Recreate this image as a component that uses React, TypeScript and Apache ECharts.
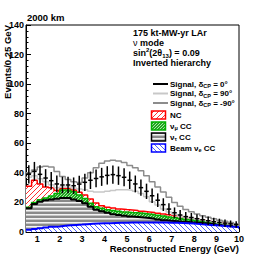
import React, { useEffect, useRef } from "react";
import * as echarts from "echarts";

// Binning (GeV): 38 bins of 0.25 GeV starting at 0.5 GeV
const binLow = 0.5;
const binWidth = 0.25;

// Background components (events per bin)
const beamNueCC = [1.5, 2, 2.5, 3, 3.5, 3.8, 4.2, 4.5, 4.8, 5, 5.3, 5.5, 5.7, 5.9, 6, 6.1, 6.2, 6.3, 6.4, 6.5, 6.5, 6.5, 6.5, 6.5, 6.4, 6.3, 6.2, 6.1, 6.0, 5.7, 5.4, 5.1, 4.8, 4.5, 4.2, 3.9, 3.6, 3.3];
const nutauCC = [14.5, 17, 18, 18.5, 18.5, 18.7, 18.8, 18.5, 17.2, 16, 14.2, 11.5, 9.3, 8.1, 7, 5.9, 5.3, 4.7, 4.1, 3.7, 3.3, 2.9, 2.5, 2.0, 1.6, 1.3, 1.1, 0.9, 0.8, 0.8, 0.8, 0.8, 0.7, 0.6, 0.5, 0.5, 0.4, 0.4];
const numuCC = [0.8, 1, 1.3, 1.5, 2.3, 3.5, 5.4, 5.4, 5.2, 4, 3.2, 2.4, 2, 2, 2, 2.5, 2.5, 2.5, 2.7, 2.8, 2.8, 2.8, 2.8, 2.8, 2.8, 2.6, 2.4, 2.2, 1.8, 1.6, 1.4, 1.2, 1.1, 1.0, 0.9, 0.8, 0.8, 0.6];
const ncBkg = [14.2, 15, 10.7, 7.5, 5.7, 2, 1.1, 1.1, 1.2, 1.8, 2.3, 2.9, 2.6, 1.8, 1.8, 1.7, 1.6, 1.7, 1.7, 1.5, 1.4, 1.4, 1.4, 1.4, 1.4, 1.5, 1.4, 1.3, 1.2, 1.1, 1.0, 0.9, 0.8, 0.7, 0.6, 0.5, 0.4, 0.4];

// Signal (nu_e appearance) for three values of delta_CP
const signalCP0 = [8, 6, 6.5, 6, 4.7, 4.5, 2.3, 2.3, 2.9, 5.6, 8.6, 12.7, 16.6, 19.5, 21.5, 22.6, 22.5, 21.8, 20.1, 18, 16, 13.9, 11.3, 8.8, 6.3, 3.8, 1.9, 1.0, 0.6, 0.6, 0.4, 0.3, 0.2, 0.2, 0.3, 0.3, 0.3, 0.3];
const signalCP90 = [6, 3, 3.5, 3.5, 2, 2, 1, 1, 1.4, 2.2, 3.5, 5.2, 7.4, 9.2, 10.7, 11.8, 12.9, 13.3, 13.4, 13, 12, 10.3, 7.3, 5.5, 3.3, 1.8, 0.7, 0.1, 0, 0.1, 0.1, 0.1, 0.1, 0.1, 0.1, 0.1, 0.1, 0.1];
const signalCPm90 = [9, 7, 11.5, 14, 14, 13, 8, 6, 5.6, 6.7, 11.5, 17.7, 23.9, 28.7, 31.2, 32.3, 32.4, 31.8, 30.1, 29, 27.5, 24.4, 20.8, 17.8, 14.8, 11.8, 8.9, 7, 5.5, 4.5, 3.6, 3, 2.6, 2.2, 1.8, 1.5, 1.2, 0.9];
// Statistical error bars on the delta_CP = 0 prediction
const errCP0 = [6.2, 6.4, 6.2, 6.0, 5.9, 5.7, 5.6, 5.6, 5.6, 5.7, 5.8, 5.9, 6.0, 6.1, 6.2, 6.2, 6.2, 6.1, 5.9, 5.7, 5.5, 5.2, 4.9, 4.6, 4.3, 3.9, 3.6, 3.4, 3.2, 3.1, 3.0, 2.9, 2.8, 2.6, 2.5, 2.4, 2.3, 2.2];

const xTickValues = [1, 2, 3, 4, 5, 6, 7, 8, 9, 10];
const xMinorStep = 0.2;

const FONT = "'Liberation Sans', Arial, Helvetica, sans-serif";

function sumArr(...arrs: number[][]): number[] {
  return arrs[0].map((_, i) => arrs.reduce((s, a) => s + a[i], 0));
}

function stepData(vals: number[]) {
  const d: number[][] = vals.map((v, i) => [binLow + i * binWidth, v]);
  d.push([binLow + vals.length * binWidth, vals[vals.length - 1]]);
  return d;
}

function makeCanvas(w: number, h: number, draw: (ctx: CanvasRenderingContext2D) => void) {
  const c = document.createElement("canvas");
  c.width = w;
  c.height = h;
  const ctx = c.getContext("2d")!;
  draw(ctx);
  return { image: c, repeat: "repeat", imageWidth: w, imageHeight: h } as any;
}

function hatch(color: string, dir: 1 | -1, size: number, bg: string) {
  return makeCanvas(size, size, (ctx) => {
    ctx.fillStyle = bg;
    ctx.fillRect(0, 0, size, size);
    ctx.strokeStyle = color;
    ctx.lineWidth = 1;
    ctx.beginPath();
    if (dir === 1) {
      ctx.moveTo(-1, size + 1);
      ctx.lineTo(size + 1, -1);
      ctx.moveTo(-1, 1);
      ctx.lineTo(1, -1);
      ctx.moveTo(size - 1, size + 1);
      ctx.lineTo(size + 1, size - 1);
    } else {
      ctx.moveTo(-1, -1);
      ctx.lineTo(size + 1, size + 1);
      ctx.moveTo(size - 1, -1);
      ctx.lineTo(size + 1, 1);
      ctx.moveTo(-1, size - 1);
      ctx.lineTo(1, size + 1);
    }
    ctx.stroke();
  });
}

export default function App() {
  const ref = useRef<HTMLDivElement>(null);

  useEffect(() => {
    if (!ref.current) return;
    const chart = echarts.init(ref.current, null, { renderer: "svg" });

    const ncPat = hatch("#ff3030", 1, 5, "#ffffff");
    const beamPat = hatch("#4a5cff", -1, 5, "#ffffff");
    const numuPat = makeCanvas(3, 3, (ctx) => {
      ctx.fillStyle = "#22a622";
      ctx.fillRect(0, 0, 3, 3);
      ctx.fillStyle = "#a8e6a8";
      ctx.fillRect(0, 0, 1, 1);
      ctx.fillRect(2, 1, 1, 1);
      ctx.fillRect(1, 2, 1, 1);
    });
    const nutauPat = makeCanvas(4, 4, (ctx) => {
      ctx.fillStyle = "#8a8a8a";
      ctx.fillRect(0, 0, 4, 4);
      ctx.fillStyle = "#f2f2f2";
      ctx.fillRect(0, 2, 4, 1);
      ctx.fillStyle = "#c4c4c4";
      ctx.fillRect(0, 3, 4, 1);
    });

    const cumB = beamNueCC;
    const cumK = sumArr(beamNueCC, nutauCC);
    const cumG = sumArr(beamNueCC, nutauCC, numuCC);
    const cumR = sumArr(beamNueCC, nutauCC, numuCC, ncBkg);
    const tot0 = sumArr(cumR, signalCP0);
    const tot90 = sumArr(cumR, signalCP90);
    const totm90 = sumArr(cumR, signalCPm90);

    const xMinor: number[] = [];
    for (let v = binLow + 0.1; v < 10; v += xMinorStep) {
      const r = Math.round(v * 10) / 10;
      if (Math.abs(r - Math.round(r)) > 1e-6) xMinor.push(r);
    }

    const areaSeries = (name: string, vals: number[], lineColor: string, lw: number, fill: any) => ({
      name,
      type: "line",
      step: "end",
      data: stepData(vals),
      showSymbol: false,
      symbol: "none",
      silent: true,
      lineStyle: { color: lineColor, width: lw },
      areaStyle: { color: fill, opacity: 1 },
    });

    const lineSeries = (name: string, vals: number[], color: string, lw: number) => ({
      name,
      type: "line",
      step: "end",
      data: stepData(vals),
      showSymbol: false,
      symbol: "none",
      silent: true,
      z: 5,
      lineStyle: { color, width: lw },
    });

    const legendTextStyle = (txt: string, x: number, y: number) => ({
      type: "text",
      style: {
        text: txt,
        x,
        y,
        fill: "#000",
        fontSize: 8,
        fontWeight: "bold",
        fontFamily: FONT,
        verticalAlign: "middle",
        align: "left",
        lineHeight: 10,
        rich: {
          sub: { fontSize: 5.5, fontWeight: "bold", fontFamily: FONT, verticalAlign: "bottom", lineHeight: 6, fill: "#000" },
        },
      },
    });

    const legendLine = (y: number, color: string, lw: number) => ({
      type: "line",
      shape: { x1: 153, y1: y, x2: 168, y2: y },
      style: { stroke: color, lineWidth: lw },
    });

    const legendBox = (y: number, stroke: string, fill: any) => ({
      type: "rect",
      shape: { x: 151.5, y: y - 4, width: 14, height: 8 },
      style: { fill, stroke, lineWidth: 1.5 },
    });

    const headerText = (txt: string, y: number, rich?: any) => ({
      type: "text",
      style: {
        text: txt,
        x: 133,
        y,
        fill: "#000",
        fontSize: 9,
        fontWeight: "bold",
        fontFamily: FONT,
        verticalAlign: "middle",
        align: "left",
        lineHeight: 12,
        rich,
      },
    });

    chart.setOption({
      animation: false,
      backgroundColor: "#ffffff",
      grid: {
        left: 26,
        right: 27,
        top: 25,
        bottom: 26,
        show: true,
        borderColor: "#000",
        borderWidth: 1,
        backgroundColor: "#ffffff",
      },
      xAxis: [
        {
          type: "value",
          min: 0.5,
          max: 10,
          position: "bottom",
          axisLine: { show: true, lineStyle: { color: "#000", width: 1 } },
          axisTick: { show: true, inside: true, length: 5, customValues: xTickValues, lineStyle: { color: "#000" } },
          axisLabel: {
            show: true,
            customValues: xTickValues,
            color: "#000",
            fontSize: 9,
            fontWeight: "bold",
            fontFamily: FONT,
            margin: 2,
          },
          splitLine: { show: false },
        },
        {
          type: "value",
          min: 0.5,
          max: 10,
          position: "bottom",
          offset: 0,
          axisLine: { show: false },
          axisTick: { show: true, inside: true, length: 2.5, customValues: xMinor, lineStyle: { color: "#000" } },
          axisLabel: { show: false },
          splitLine: { show: false },
        },
      ],
      yAxis: {
        type: "value",
        min: 0,
        max: 140,
        interval: 20,
        axisLine: { show: true, lineStyle: { color: "#000", width: 1 } },
        axisTick: { show: true, inside: true, length: 5, lineStyle: { color: "#000" } },
        minorTick: { show: true, splitNumber: 5, length: 2.5, lineStyle: { color: "#000" } },
        axisLabel: { color: "#000", fontSize: 9, fontWeight: "bold", fontFamily: FONT, margin: 2 },
        splitLine: { show: false },
        minorSplitLine: { show: false },
      },
      series: [
        areaSeries("NC", cumR, "#ff0000", 1.5, ncPat),
        areaSeries("numu CC", cumG, "#00b000", 1.5, numuPat),
        areaSeries("nutau CC", cumK, "#000000", 2, nutauPat),
        areaSeries("Beam nue CC", cumB, "#0000ff", 2, beamPat),
        lineSeries("Signal dCP=90", tot90, "#c8c8c8", 1.5),
        lineSeries("Signal dCP=-90", totm90, "#8c8c8c", 1.5),
        {
          name: "Signal dCP=0",
          type: "custom",
          silent: true,
          z: 10,
          encode: { x: 0, y: 1 },
          data: tot0.map((v, i) => [binLow + (i + 0.5) * binWidth, v, errCP0[i]]),
          renderItem: (params: any, api: any) => {
            const x = api.value(0);
            const y = api.value(1);
            const e = api.value(2);
            const top = api.coord([x, y + e]);
            const bot = api.coord([x, y - e]);
            const l = api.coord([x - binWidth * 0.4, y]);
            const r = api.coord([x + binWidth * 0.4, y]);
            return {
              type: "group",
              children: [
                { type: "line", shape: { x1: top[0], y1: top[1], x2: bot[0], y2: bot[1] }, style: { stroke: "#000", lineWidth: 1.5 } },
                { type: "line", shape: { x1: l[0], y1: l[1], x2: r[0], y2: r[1] }, style: { stroke: "#000", lineWidth: 1.5 } },
              ],
            };
          },
        },
      ],
      graphic: [
        {
          type: "text",
          style: { text: "2000 km", x: 27, y: 17.5, fill: "#000", fontSize: 9.5, fontWeight: "bold", fontFamily: FONT, verticalAlign: "middle", align: "left" },
        },
        {
          type: "text",
          x: 7.5,
          y: 25,
          rotation: Math.PI / 2,
          style: { text: "Events/0.25 GeV", x: 0, y: 0, fill: "#000", fontSize: 9.5, fontWeight: "bold", fontFamily: FONT, verticalAlign: "middle", align: "right" },
        },
        {
          type: "text",
          style: { text: "Reconstructed Energy (GeV)", x: 239, y: 248.5, fill: "#000", fontSize: 9.5, fontWeight: "bold", fontFamily: FONT, verticalAlign: "middle", align: "right" },
        },
        headerText("175 kt-MW-yr LAr", 32.5),
        headerText("{nu|ν} mode", 43, { nu: { fontSize: 9, fontWeight: "normal", fontFamily: FONT, fill: "#000" } }),
        headerText("sin{sup|2}(2θ{sub|13}) = 0.09", 53, {
          sup: { fontSize: 6, fontWeight: "bold", fontFamily: FONT, verticalAlign: "top", lineHeight: 7, fill: "#000" },
          sub: { fontSize: 6, fontWeight: "bold", fontFamily: FONT, verticalAlign: "bottom", lineHeight: 7, fill: "#000" },
        }),
        headerText("Inverted hierarchy", 63),
        legendLine(84, "#000000", 2),
        legendTextStyle("Signal, δ{sub|CP} = 0°", 170, 84),
        legendLine(93.5, "#c8c8c8", 2),
        legendTextStyle("Signal, δ{sub|CP} = 90°", 170, 93.5),
        legendLine(103, "#8c8c8c", 2),
        legendTextStyle("Signal, δ{sub|CP} = -90°", 170, 103),
        legendBox(115, "#ff0000", ncPat),
        legendTextStyle("NC", 170, 115),
        legendBox(126, "#00b000", numuPat),
        legendTextStyle("ν{sub|μ} CC", 170, 126),
        legendBox(137, "#000000", nutauPat),
        legendTextStyle("ν{sub|τ} CC", 170, 137),
        legendBox(148, "#0000ff", beamPat),
        legendTextStyle("Beam ν{sub|e} CC", 170, 148),
      ],
    });

    return () => {
      chart.dispose();
    };
  }, []);

  return (
    <div
      ref={ref}
      style={{ position: "fixed", left: 0, top: 0, width: 266, height: 258, background: "#fff" }}
    />
  );
}
